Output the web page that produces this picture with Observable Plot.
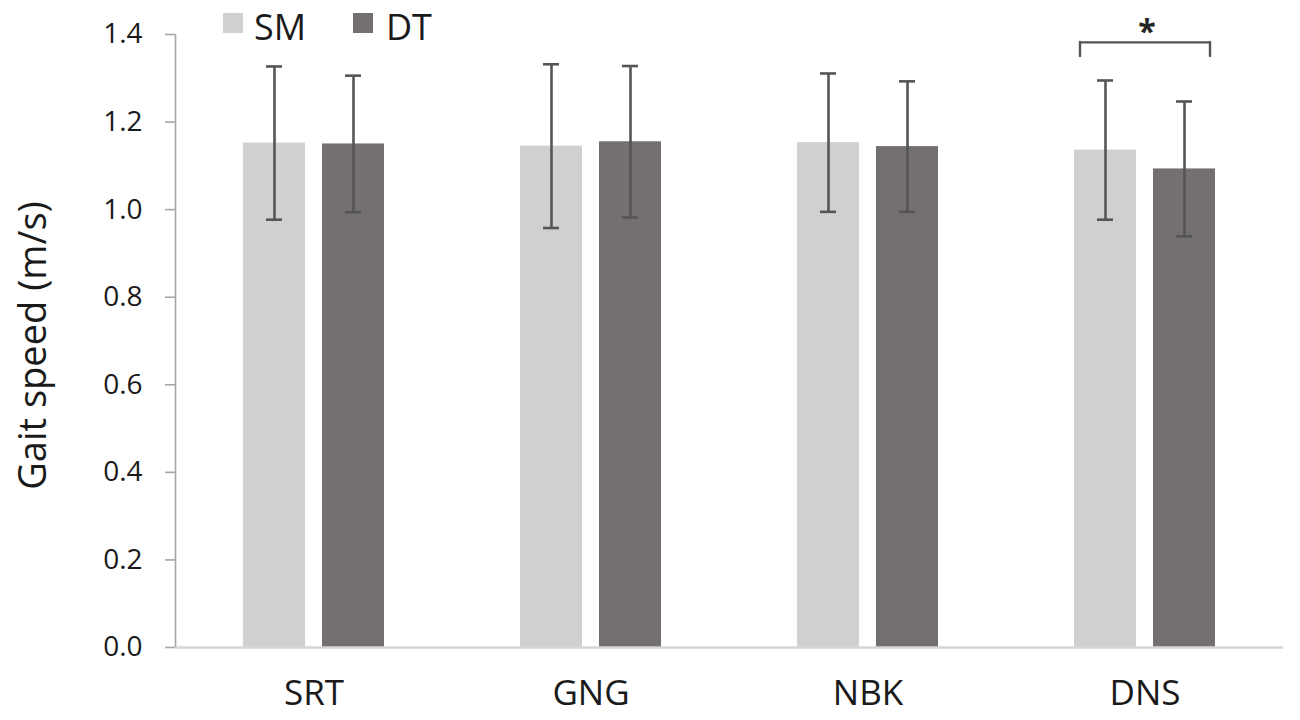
<!DOCTYPE html>
<html>
<head>
<meta charset="utf-8">
<script src="https://cdn.jsdelivr.net/npm/d3@7"></script>
<script src="https://cdn.jsdelivr.net/npm/@observablehq/plot@0.6"></script>
<style>
  html, body { margin: 0; padding: 0; background: #fff; }
  #wrap { position: relative; width: 1300px; height: 720px; font-family: 'Open Sans', sans-serif; color: #1a1a1a; }
  .sw { position: absolute; width: 20px; height: 20px; }
  .lt { position: absolute; font-size: 36px; line-height: 36px; white-space: nowrap; }
  #wrap svg text { font-family: 'Open Sans', sans-serif; }
</style>
</head>
<body>
<div id="wrap"></div>
<script>
// ---- data ----
const categories = ["SRT", "GNG", "NBK", "DNS"];
const series = ["SM", "DT"];
const smMean = [1.152, 1.145, 1.153, 1.136];
const smSD   = [0.175, 0.187, 0.158, 0.159];
const dtMean = [1.150, 1.155, 1.144, 1.093];
const dtSD   = [0.156, 0.173, 0.149, 0.154];
const yTicks = [0, 0.2, 0.4, 0.6, 0.8, 1.0, 1.2, 1.4];
const yLabel = "Gait speed (m/s)";
const sigCategory = ["DNS"];
const sigBracketTop = 1.382;
const sigBracketLeg = 1.350;
const sigStarY = 1.403;
const colors = {SM: "#d0d0d0", DT: "#747071"};

const sm = categories.map((c, i) => ({cat: c, mean: smMean[i], lo: smMean[i] - smSD[i], hi: smMean[i] + smSD[i]}));
const dt = categories.map((c, i) => ({cat: c, mean: dtMean[i], lo: dtMean[i] - dtSD[i], hi: dtMean[i] + dtSD[i]}));

const errColor = "#555555";
const fmt = d3.format(".1f");

const chart = Plot.plot({
  width: 1300,
  height: 720,
  marginLeft: 175,
  marginRight: 17,
  marginTop: 34,
  marginBottom: 73,
  style: {fontFamily: "'Open Sans', sans-serif", fontSize: "26px", color: "#1a1a1a", background: "white"},
  x: {domain: categories, padding: 0, axis: null},
  y: {domain: [0, 1.4], axis: null},
  marks: [
    Plot.barY(sm, {x: "cat", y: "mean", fill: colors.SM, insetLeft: 68, insetRight: 147}),
    Plot.barY(dt, {x: "cat", y: "mean", fill: colors.DT, insetLeft: 147, insetRight: 68}),
    Plot.ruleX(sm, {x: "cat", y1: "lo", y2: "hi", dx: -39.5, stroke: errColor, strokeWidth: 2.6}),
    Plot.ruleX(dt, {x: "cat", y1: "lo", y2: "hi", dx: 39.5, stroke: errColor, strokeWidth: 2.6}),
    Plot.tickY(sm, {x: "cat", y: "hi", insetLeft: 91, insetRight: 170, stroke: errColor, strokeWidth: 2.6}),
    Plot.tickY(sm, {x: "cat", y: "lo", insetLeft: 91, insetRight: 170, stroke: errColor, strokeWidth: 2.6}),
    Plot.tickY(dt, {x: "cat", y: "hi", insetLeft: 170, insetRight: 91, stroke: errColor, strokeWidth: 2.6}),
    Plot.tickY(dt, {x: "cat", y: "lo", insetLeft: 170, insetRight: 91, stroke: errColor, strokeWidth: 2.6}),
    // axes lines
    Plot.ruleY([0], {stroke: "#d6d6d6", strokeWidth: 2.5}),
    Plot.ruleX([categories[0]], {x: d => d, y1: 0, y2: 1.4, dx: -138.5, stroke: "#a6a6a6", strokeWidth: 1.6}),
    Plot.tickY(yTicks, {y: d => d, x: () => categories[0], dx: -10, insetLeft: 0, insetRight: 267, stroke: "#a6a6a6", strokeWidth: 1.6}),
    Plot.text(yTicks, {y: d => d, frameAnchor: "left", dx: -33, text: d => fmt(d), textAnchor: "end", lineAnchor: "middle", fontSize: 28, fill: "#1a1a1a"}),
    Plot.text(categories, {x: d => d, frameAnchor: "bottom", dy: 46, text: d => d, textAnchor: "middle", lineAnchor: "middle", fontSize: 35, fill: "#1a1a1a"}),
    // y label
    Plot.text([yLabel], {text: d => d, frameAnchor: "left", rotate: -90, dx: -142, dy: 4.5, fontSize: 38, textAnchor: "middle", lineAnchor: "middle", fill: "#1a1a1a"}),
    // significance bracket
    Plot.tickY(sigCategory, {x: d => d, y: sigBracketTop, insetLeft: 73.5, insetRight: 73.5, stroke: "#555", strokeWidth: 2.4}),
    Plot.ruleX(sigCategory, {x: d => d, y1: sigBracketLeg, y2: sigBracketTop, dx: -65, stroke: "#555", strokeWidth: 2.4, strokeLinecap: "round"}),
    Plot.ruleX(sigCategory, {x: d => d, y1: sigBracketLeg, y2: sigBracketTop, dx: 65, stroke: "#555", strokeWidth: 2.4, strokeLinecap: "round"}),
    Plot.text(sigCategory, {x: d => d, y: sigStarY, text: () => "*", fontSize: 32, fontWeight: "bold", fill: "#222", lineAnchor: "middle", dx: 2})
  ]
});

const wrap = document.getElementById("wrap");
wrap.appendChild(chart);

// legend overlay
const legendItems = [
  {name: series[0], swLeft: 223, txtLeft: 254},
  {name: series[1], swLeft: 353, txtLeft: 386}
];
for (const it of legendItems) {
  const sw = document.createElement("div");
  sw.className = "sw";
  sw.style.left = it.swLeft + "px";
  sw.style.top = "13px";
  sw.style.background = colors[it.name];
  wrap.appendChild(sw);
  const t = document.createElement("div");
  t.className = "lt";
  t.style.left = it.txtLeft + "px";
  t.style.top = "9px";
  t.textContent = it.name;
  wrap.appendChild(t);
}
const svg = wrap.querySelector("svg");
svg.style.position = "absolute";
svg.style.left = "0";
svg.style.top = "0";
</script>
</body>
</html>
